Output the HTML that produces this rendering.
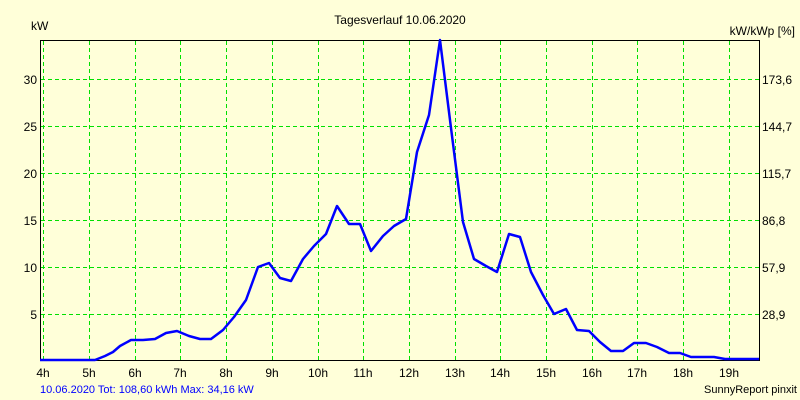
<!DOCTYPE html>
<html><head><style>
html,body{margin:0;padding:0;background:#ffffd9;}
svg{display:block;font-family:"Liberation Sans",sans-serif;}
</style></head><body>
<svg width="800" height="400" viewBox="0 0 800 400">
<rect width="800" height="400" fill="#ffffd9"/>
<g stroke="#00e000" stroke-width="1" stroke-dasharray="4,3" fill="none">
<line x1="43.5" y1="41" x2="43.5" y2="360"/><line x1="89.5" y1="41" x2="89.5" y2="360"/>
<line x1="135.5" y1="41" x2="135.5" y2="360"/><line x1="180.5" y1="41" x2="180.5" y2="360"/>
<line x1="226.5" y1="41" x2="226.5" y2="360"/><line x1="272.5" y1="41" x2="272.5" y2="360"/>
<line x1="318.5" y1="41" x2="318.5" y2="360"/><line x1="363.5" y1="41" x2="363.5" y2="360"/>
<line x1="409.5" y1="41" x2="409.5" y2="360"/><line x1="455.5" y1="41" x2="455.5" y2="360"/>
<line x1="500.5" y1="41" x2="500.5" y2="360"/><line x1="546.5" y1="41" x2="546.5" y2="360"/>
<line x1="592.5" y1="41" x2="592.5" y2="360"/><line x1="637.5" y1="41" x2="637.5" y2="360"/>
<line x1="683.5" y1="41" x2="683.5" y2="360"/><line x1="729.5" y1="41" x2="729.5" y2="360"/>
<line x1="41" y1="79.5" x2="759" y2="79.5"/><line x1="41" y1="126.5" x2="759" y2="126.5"/>
<line x1="41" y1="173.5" x2="759" y2="173.5"/><line x1="41" y1="220.5" x2="759" y2="220.5"/>
<line x1="41" y1="267.5" x2="759" y2="267.5"/><line x1="41" y1="314.5" x2="759" y2="314.5"/>
</g>
<g stroke="#000" stroke-width="1" fill="none">
<line x1="40.5" y1="40" x2="40.5" y2="360"/>
<line x1="40" y1="40.5" x2="760" y2="40.5"/>
<line x1="759.5" y1="40" x2="759.5" y2="360"/>
<line x1="40" y1="360.5" x2="760" y2="360.5"/>
</g>
<polyline fill="none" stroke="#0000ff" stroke-width="2.5" stroke-linejoin="round" points="40,360 95,360 105,356 113,352 120,346 131,340 143,340 155,339 166,333 177,331 189,336 200,339 211,339 223,330 234,317 246,300 258,267 269,263 280,278 291,281 303,259 314,246 326,234 337,206 349,224 360,224 371,251 383,236 394,226 406,219 417,152 429,115 440,40 451,128 463,222 474,259 486,266 497,272 509,234 520,237 531,272 543,295 554,314 566,309 577,330 589,331 600,342 611,351 623,351 634,343 646,343 657,347 669,353 680,353 691,357 703,357 714,357 725,359 759,359"/>
<g font-size="12" fill="#000">
<text x="400" y="24" text-anchor="middle">Tagesverlauf 10.06.2020</text>
<text x="31" y="30">kW</text>
<text x="795" y="35" text-anchor="end">kW/kWp [%]</text>
<g text-anchor="end">
<text x="37" y="84">30</text><text x="37" y="131">25</text><text x="37" y="178">20</text>
<text x="37" y="225">15</text><text x="37" y="272">10</text><text x="37" y="319">5</text>
</g>
<g>
<text x="762" y="84">173,6</text><text x="762" y="131">144,7</text><text x="762" y="178">115,7</text>
<text x="762" y="225">86,8</text><text x="762" y="272">57,9</text><text x="762" y="319">28,9</text>
</g>
<g text-anchor="middle">
<text x="43" y="377">4h</text><text x="89" y="377">5h</text><text x="135" y="377">6h</text>
<text x="180" y="377">7h</text><text x="226" y="377">8h</text><text x="272" y="377">9h</text>
<text x="318" y="377">10h</text><text x="363" y="377">11h</text><text x="409" y="377">12h</text>
<text x="455" y="377">13h</text><text x="500" y="377">14h</text><text x="546" y="377">15h</text>
<text x="592" y="377">16h</text><text x="637" y="377">17h</text><text x="683" y="377">18h</text>
<text x="729" y="377">19h</text>
</g>
<text x="40" y="393" font-size="11" fill="#0000ff">10.06.2020 Tot: 108,60 kWh Max: 34,16 kW</text>
<text x="797" y="393" font-size="11" text-anchor="end">SunnyReport pinxit</text>
</g>
</svg>
</body></html>
